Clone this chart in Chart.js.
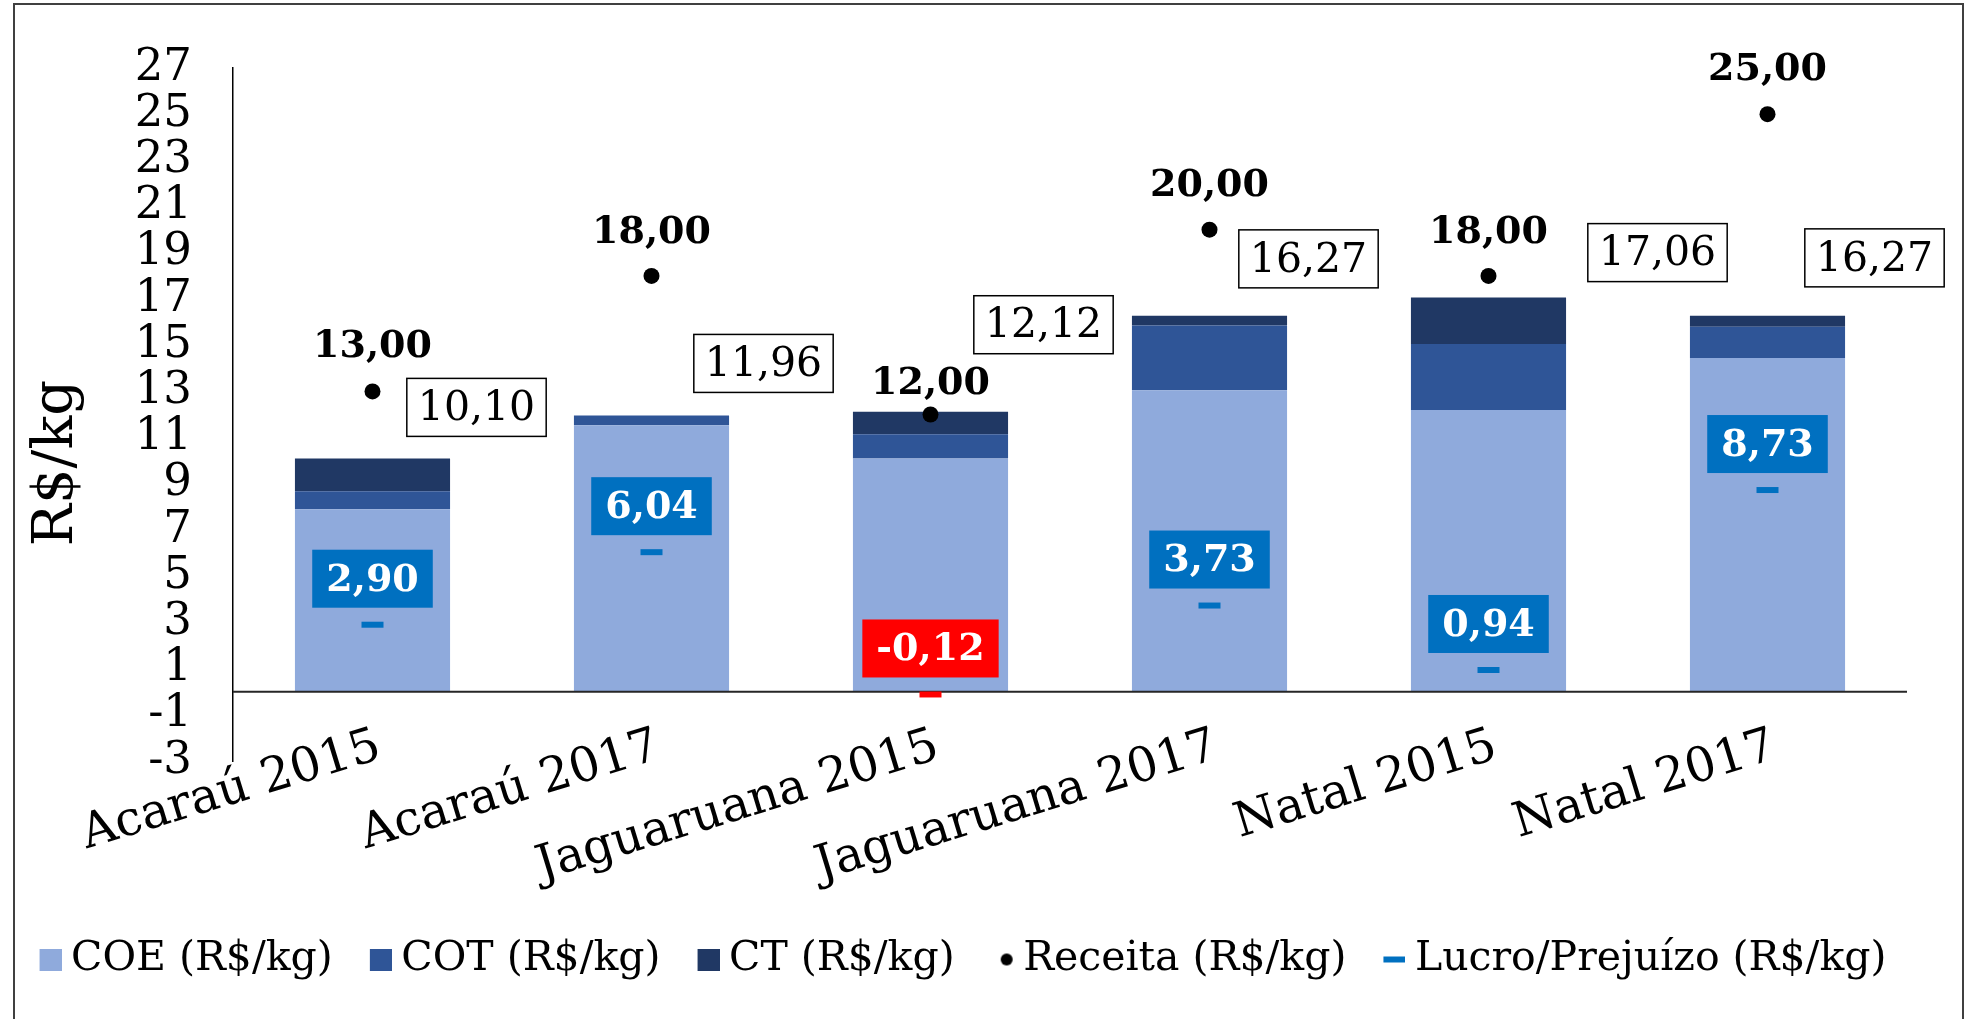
<!DOCTYPE html>
<html>
<head>
<meta charset="utf-8">
<title>Custos, receita e lucro (R$/kg)</title>
<script src="https://cdn.jsdelivr.net/npm/chart.js@4.4.0/dist/chart.umd.min.js"></script>
<style>
  html, body { margin: 0; padding: 0; background: #fff; }
  canvas { display: block; }
</style>
</head>
<body>
<canvas id="myChart" width="1967" height="1019"></canvas>
<script>
// valores (R$/kg)
var categorias = ['Acaraú 2015', 'Acaraú 2017', 'Jaguaruana 2015', 'Jaguaruana 2017', 'Natal 2015', 'Natal 2017'];
var coe = [7.90, 11.53, 10.10, 13.05, 12.20, 14.45];
var cot = [0.78, 0.43, 1.05, 2.80, 2.85, 1.35];
var ct = [1.42, 0.00, 0.97, 0.42, 2.01, 0.47];
var receita = [13.00, 18.00, 12.00, 20.00, 18.00, 25.00];
var lucro = [2.90, 6.04, -0.12, 3.73, 0.94, 8.73];
var custoTotal = [10.10, 11.96, 12.12, 16.27, 17.06, 16.27];
var yMin = -3, yMax = 27, yStep = 2;

var fonte = 'DejaVu Serif';
var cores = ['#8FAADC', '#2F5597', '#203864', '#000000', '#0070C0'];
var vermelho = '#FF0000';

function fmt(v) {
    return v.toFixed(2).replace('.', ',');
}

// icones da legenda (canvas pequenos, marcador encostado a direita)
function icone(w, h, desenha) {
    var c = document.createElement('canvas');
    c.width = w;
    c.height = h;
    desenha(c.getContext('2d'));
    return c;
}
var icones = [
    icone(52, 22, function (g) { g.fillStyle = cores[0]; g.fillRect(30, 0, 22, 22); }),
    icone(52, 22, function (g) { g.fillStyle = cores[1]; g.fillRect(30, 0, 22, 22); }),
    icone(52, 22, function (g) { g.fillStyle = cores[2]; g.fillRect(30, 0, 22, 22); }),
    icone(52, 22, function (g) { g.fillStyle = '#000'; g.beginPath(); g.arc(45, 11, 6, 0, Math.PI * 2); g.fill(); }),
    icone(52, 22, function (g) { g.fillStyle = cores[4]; g.fillRect(30, 8, 22, 6); })
];

// deslocamento dos rotulos (em px), como no original
var caixaDx = [104, 112, 113, 99, 169, 107];
var caixaDy = [-51, -52, -87, -57, -45, -58];
var receitaDy = [-44, -43, -30, -44, -43, -44];

var rotulos = {
    id: 'rotulos',
    afterDatasetDraw: function (chart, args) {
        // linha do zero, por cima das barras
        if (args.index !== 0) return;
        var ctx = chart.ctx;
        var area = chart.chartArea;
        var y0 = chart.scales.y.getPixelForValue(0);
        ctx.save();
        ctx.strokeStyle = '#262626';
        ctx.lineWidth = 2;
        ctx.beginPath();
        ctx.moveTo(area.left, y0);
        ctx.lineTo(area.right, y0);
        ctx.stroke();
        ctx.restore();
    },
    afterDatasetsDraw: function (chart) {
        var ctx = chart.ctx;
        var xs = chart.scales.x;
        var ys = chart.scales.y;
        ctx.save();
        ctx.textAlign = 'center';
        ctx.textBaseline = 'middle';

        for (var i = 0; i < categorias.length; i++) {
            var x = xs.getPixelForValue(i);

            // receita
            ctx.font = 'bold 38px "' + fonte + '"';
            ctx.fillStyle = '#000';
            ctx.fillText(fmt(receita[i]), x, ys.getPixelForValue(receita[i]) + receitaDy[i]);

            // custo total em caixa
            ctx.font = '41px "' + fonte + '"';
            var t = fmt(custoTotal[i]);
            var w = ctx.measureText(t).width + 22;
            var cx = x + caixaDx[i];
            var cy = ys.getPixelForValue(custoTotal[i]) + caixaDy[i];
            ctx.fillStyle = '#fff';
            ctx.fillRect(cx - w / 2, cy - 29, w, 58);
            ctx.strokeStyle = '#000';
            ctx.lineWidth = 1.5;
            ctx.strokeRect(cx - w / 2, cy - 29, w, 58);
            ctx.fillStyle = '#000';
            ctx.fillText(t, cx, cy + 2);

            // lucro / prejuizo
            ctx.font = 'bold 38px "' + fonte + '"';
            var tl = fmt(lucro[i]);
            var wl = ctx.measureText(tl).width + 28;
            var ly = ys.getPixelForValue(lucro[i]) - 46;
            ctx.fillStyle = lucro[i] < 0 ? vermelho : cores[4];
            ctx.fillRect(x - wl / 2, ly - 29, wl, 58);
            ctx.fillStyle = '#fff';
            ctx.fillText(tl, x, ly + 2);
        }
        ctx.restore();
    },
    afterDraw: function (chart) {
        var ctx = chart.ctx;
        var xs = chart.scales.x;
        var base = chart.chartArea.bottom;

        // rotulos das categorias, inclinados
        ctx.save();
        ctx.font = '48px "' + fonte + '"';
        ctx.fillStyle = '#000';
        ctx.textAlign = 'right';
        ctx.textBaseline = 'middle';
        for (var i = 0; i < categorias.length; i++) {
            ctx.save();
            ctx.translate(xs.getPixelForValue(i) + 7, base - 15);
            ctx.rotate(-17 * Math.PI / 180);
            ctx.fillText(categorias[i], 0, 0);
            ctx.restore();
        }
        ctx.restore();

        // titulo do eixo y
        ctx.save();
        ctx.translate(57, 463);
        ctx.rotate(-Math.PI / 2);
        ctx.font = '56px "' + fonte + '"';
        ctx.fillStyle = '#000';
        ctx.textAlign = 'center';
        ctx.textBaseline = 'middle';
        ctx.fillText('R$/kg', 0, 0);
        ctx.restore();

        // moldura
        ctx.save();
        ctx.strokeStyle = '#404040';
        ctx.lineWidth = 2;
        ctx.strokeRect(14, 4, 1949, 1040);
        ctx.restore();
    }
};

var ctx = document.getElementById('myChart').getContext('2d');
var chart = new Chart(ctx, {
    type: 'bar',
    data: {
        labels: categorias,
        datasets: [
            { label: 'COE (R$/kg)', data: coe, backgroundColor: cores[0], stack: 'custo', order: 2 },
            { label: 'COT (R$/kg)', data: cot, backgroundColor: cores[1], stack: 'custo', order: 2 },
            { label: 'CT (R$/kg)', data: ct, backgroundColor: cores[2], stack: 'custo', order: 2 },
            {
                type: 'line', label: 'Receita (R$/kg)', data: receita, stack: 'receita', order: 1,
                showLine: false, pointStyle: 'circle', pointRadius: 8,
                pointBackgroundColor: '#000', pointBorderColor: '#000', pointBorderWidth: 0
            },
            {
                type: 'line', label: 'Lucro/Prejuízo (R$/kg)', data: lucro, stack: 'lucro', order: 1,
                showLine: false, pointStyle: 'line', pointRadius: 11, pointBorderWidth: 6,
                pointBorderColor: function (c) { return c.raw < 0 ? vermelho : cores[4]; }
            }
        ]
    },
    options: {
        responsive: false,
        animation: false,
        layout: { padding: { left: 0, right: 60, top: 60, bottom: 29 } },
        datasets: {
            bar: { barPercentage: 0.556, categoryPercentage: 1, borderWidth: 0 }
        },
        scales: {
            x: {
                stacked: true,
                grid: { display: false, drawTicks: false },
                border: { display: false },
                ticks: { display: false },
                afterFit: function (s) { s.height = 160; }
            },
            y: {
                stacked: true, min: yMin, max: yMax,
                grid: { display: false, drawTicks: false },
                border: { display: true, color: '#000', width: 1.5 },
                ticks: {
                    stepSize: yStep, autoSkip: false, color: '#000',
                    font: { family: fonte, size: 45 }, padding: 41
                },
                afterFit: function (s) { s.width = 233; }
            }
        },
        plugins: {
            tooltip: { enabled: false },
            legend: {
                position: 'bottom',
                labels: {
                    usePointStyle: true,
                    pointStyleWidth: 30,
                    boxHeight: 22,
                    padding: 18,
                    color: '#000',
                    font: { family: fonte, size: 41 },
                    generateLabels: function (chart) {
                        return chart.data.datasets.map(function (ds, i) {
                            return {
                                text: ds.label, pointStyle: icones[i], datasetIndex: i,
                                fillStyle: cores[i], strokeStyle: cores[i], lineWidth: 0, hidden: false
                            };
                        });
                    }
                }
            }
        }
    },
    plugins: [rotulos]
});
</script>
</body>
</html>
